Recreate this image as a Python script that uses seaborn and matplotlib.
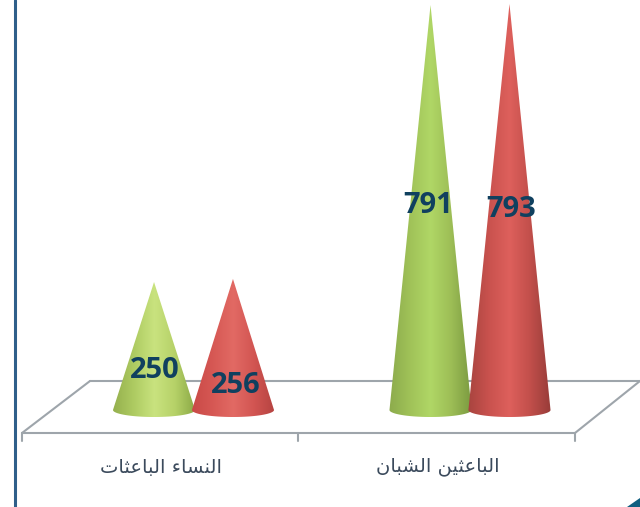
import matplotlib
matplotlib.use("Agg")
import matplotlib.pyplot as plt
import numpy as np
import pandas as pd
import seaborn as sns
from matplotlib.colors import LinearSegmentedColormap
from matplotlib.lines import Line2D
from matplotlib.patches import Polygon
from matplotlib.transforms import Affine2D, ScaledTranslation

categories = ["النساء الباعثات", "الباعثين الشبان"]
series_names = ["green", "red"]
green_values = [250, 791]
red_values = [256, 793]

# letter forms: isolated, final, initial, medial
FORMS = {
    "ا": (0xFE8D, 0xFE8E, None, None),
    "ء": (0xFE80, None, None, None),
    "ل": (0xFEDD, 0xFEDE, 0xFEDF, 0xFEE0),
    "ن": (0xFEE5, 0xFEE6, 0xFEE7, 0xFEE8),
    "س": (0xFEB1, 0xFEB2, 0xFEB3, 0xFEB4),
    "ب": (0xFE8F, 0xFE90, 0xFE91, 0xFE92),
    "ع": (0xFEC9, 0xFECA, 0xFECB, 0xFECC),
    "ث": (0xFE99, 0xFE9A, 0xFE9B, 0xFE9C),
    "ت": (0xFE95, 0xFE96, 0xFE97, 0xFE98),
    "ي": (0xFEF1, 0xFEF2, 0xFEF3, 0xFEF4),
    "ش": (0xFEB5, 0xFEB6, 0xFEB7, 0xFEB8),
}


def shape_arabic(text):
    # matplotlib does no shaping, so pick the joined forms and reverse
    out = []
    for i, ch in enumerate(text):
        if ch not in FORMS:
            out.append(ch)
            continue
        prev = text[i - 1] if i > 0 else " "
        nxt = text[i + 1] if i + 1 < len(text) else " "
        joins_prev = prev in FORMS and FORMS[prev][2] is not None
        joins_next = nxt in FORMS and FORMS[nxt][1] is not None and FORMS[ch][2] is not None
        idx = {(False, False): 0, (True, False): 1, (False, True): 2, (True, True): 3}[(joins_prev, joins_next)]
        out.append(chr(FORMS[ch][idx]))
    return "".join(reversed(out))


W, H = 640, 507
PX_PER_UNIT = 0.512
BASE_PX = 410
AXES_BOTTOM_PX = 445
GROUP_SPACING_PX = 276.5
GROUP_LEFT_PX = 193.5

sns.set_theme(style="white")
plt.rcParams["font.family"] = ["DejaVu Sans"]

fig = plt.figure(figsize=(W / 100, H / 100), dpi=100)
ax = fig.add_axes([0, (H - AXES_BOTTOM_PX) / H, 1, AXES_BOTTOM_PX / H])
ax.patch.set_visible(False)

df = pd.DataFrame(
    {
        "category": categories * 2,
        "series": [series_names[0]] * 2 + [series_names[1]] * 2,
        "value": green_values + red_values,
    }
)
sns.barplot(data=df, x="category", y="value", hue="series", width=0.571, gap=0,
            palette=["#a9cf60", "#d85c58"], legend=False, ax=ax)

xlim = (-GROUP_LEFT_PX / GROUP_SPACING_PX, (W - GROUP_LEFT_PX) / GROUP_SPACING_PX)
ylim = ((BASE_PX - AXES_BOTTOM_PX) / PX_PER_UNIT, BASE_PX / PX_PER_UNIT)

# picture pixels, y going down
pixel_tf = Affine2D().scale(1, -1).translate(0, H)

FLOOR = "#9ea5ab"
floor_lines = [
    ([22, 575], [433, 433]),
    ([22, 90], [433, 381]),
    ([90, 640], [381, 381]),
    ([575, 640], [433, 381]),
    ([22, 22], [433, 441]),
    ([298, 298], [433, 441]),
    ([575, 575], [433, 441]),
]
for xs, ys in floor_lines:
    ax.add_line(Line2D(xs, ys, color=FLOOR, lw=1.5, transform=pixel_tf, clip_on=False, zorder=1))

# keyed by (category, series)
cone_colors = {
    (0, 0): ["#95b04e", "#aecb62", "#c9e37f", "#b6d168", "#8aa845"],
    (0, 1): ["#c94a47", "#d65854", "#e26a64", "#d25552", "#b54341"],
    (1, 0): ["#8cab4c", "#a0c258", "#b0d766", "#9dbe56", "#7b9a40"],
    (1, 1): ["#a8443f", "#c9524e", "#de605c", "#c24f4b", "#983c39"],
}
ELLIPSE_RY = 7 / PX_PER_UNIT
HALF_WIDTH_SCALE = 1.04

label_color = "#10405f"
# pixels from the cone tip
label_offsets = {(0, 0): (1, -88), (0, 1): (3, -107), (1, 0): (-2, -200), (1, 1): (2, -206)}

for s, container in enumerate(ax.containers):
    for c, bar in enumerate(container):
        bar.set_visible(False)
        cx = bar.get_x() + bar.get_width() / 2
        hw = bar.get_width() / 2 * HALF_WIDTH_SCALE
        top = bar.get_height()
        t = np.linspace(0, np.pi, 40)
        arc = np.column_stack([cx + hw * np.cos(t), -ELLIPSE_RY * np.sin(t)])
        outline = np.vstack([[cx, top], arc])
        clip = Polygon(outline, closed=True, transform=ax.transData, fc="none", ec="none")
        ax.add_patch(clip)
        cmap = LinearSegmentedColormap.from_list("cone", cone_colors[(c, s)])
        im = ax.imshow(np.linspace(0, 1, 128)[None, :], cmap=cmap, aspect="auto",
                       extent=(cx - hw, cx + hw, -ELLIPSE_RY, top), zorder=2)
        im.set_clip_path(clip)
        dx, dy = label_offsets[(c, s)]
        ax.annotate(str(int(top)), (cx, top), xytext=(dx * 0.72, dy * 0.72), textcoords="offset points",
                    ha="center", va="center", fontsize=21, fontweight="bold",
                    color=label_color, family="Open Sans", zorder=5, annotation_clip=False)

ax.set_xlim(xlim)
ax.set_ylim(ylim)
ax.set_yticks([])
ax.set_xlabel("")
ax.set_ylabel("")
ax.set_xticks([0, 1], [shape_arabic(c) for c in categories])
ax.tick_params(axis="x", length=0, pad=9, labelsize=14, labelcolor="#3b4a5c")
shift = ScaledTranslation(-32 / 100, 0, fig.dpi_scale_trans)
for label in ax.get_xticklabels():
    label.set_transform(label.get_transform() + shift)
sns.despine(ax=ax, left=True, bottom=True)

# slide frame: left rule and the corner triangle
ax.add_line(Line2D([15, 15], [0, H], color="#2f5f8a", lw=2.2, transform=pixel_tf, clip_on=False))
ax.add_patch(Polygon([[627, 507], [640, 498], [640, 507]], closed=True, fc="#0f5f80", ec="none",
                     transform=pixel_tf, clip_on=False))

fig.savefig("out.png", dpi=100)
